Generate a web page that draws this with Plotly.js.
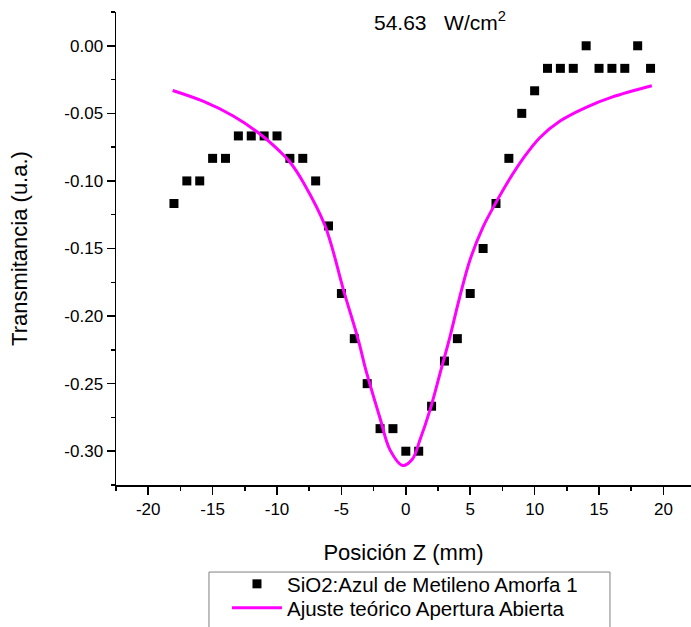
<!DOCTYPE html>
<html>
<head>
<meta charset="utf-8">
<script src="https://cdn.plot.ly/plotly-3.0.1.min.js"></script>
<style>html,body{margin:0;padding:0;background:#fff;overflow:hidden}</style>
</head>
<body>
<div id="chart" style="width:691px;height:627px"></div>
<script>
// Measured data (Posición Z in mm, Transmitancia in u.a.)
var posZ = [-18,-17,-16,-15,-14,-13,-12,-11,-10,-9,-8,-7,-6,-5,-4,-3,-2,-1,0,1,2,3,4,5,6,7,8,9,10,11,12,13,14,15,16,17,18,19];
var transmitancia = [-0.1167,-0.1,-0.1,-0.0833,-0.0833,-0.0667,-0.0667,-0.0667,-0.0667,-0.0833,-0.0833,-0.1,-0.1333,-0.1833,-0.2167,-0.25,-0.2833,-0.2833,-0.3,-0.3,-0.2667,-0.2333,-0.2167,-0.1833,-0.15,-0.1167,-0.0833,-0.05,-0.0333,-0.0167,-0.0167,-0.0167,0,-0.0167,-0.0167,-0.0167,0,-0.0167];

// Theoretical fit curve
var ajusteZ = [-18.1,-15.7,-13.4,-11.3,-9.8,-9.0,-7.9,-6.27,-4.77,-3.69,-3.1,-2.0,-1.23,-0.24,0.5,1.1,1.88,2.66,3.43,4.13,5.0,6.0,7.0,8.0,9.1,10.4,12.0,14.0,16.0,19.1];
var ajusteT = [-0.0331,-0.0412,-0.052,-0.0655,-0.078,-0.086,-0.102,-0.1332,-0.183,-0.2176,-0.240,-0.2756,-0.299,-0.3106,-0.306,-0.2916,-0.2694,-0.2423,-0.2152,-0.188,-0.158,-0.134,-0.116,-0.0995,-0.0835,-0.068,-0.0555,-0.0455,-0.038,-0.0296];

// Tick labels
var xTickVals = [-20,-15,-10,-5,0,5,10,15,20];
var xTickText = ["-20","-15","-10","-5","0","5","10","15","20"];
var yTickVals = [0,-0.05,-0.1,-0.15,-0.2,-0.25,-0.3];
var yTickText = ["0.00","-0.05","-0.10","-0.15","-0.20","-0.25","-0.30"];

var FONT = "Liberation Sans, Arial, sans-serif";

var traces = [
  {
    x: posZ, y: transmitancia, type: "scatter", mode: "markers",
    name: "SiO2:Azul de Metileno Amorfa 1",
    marker: {symbol: "square", size: 9, color: "#000000"},
    cliponaxis: false, legend: "legend"
  },
  {
    x: ajusteZ, y: ajusteT, type: "scatter", mode: "lines",
    name: "Ajuste teórico Apertura Abierta",
    line: {color: "#ff00ff", width: 3, shape: "spline", smoothing: 1},
    legend: "legend2"
  }
];

var legendBase = {
  x: 0.193, xanchor: "left", yanchor: "middle",
  bgcolor: "rgba(0,0,0,0)", borderwidth: 0,
  font: {family: FONT, size: 20.5, color: "#000"},
  tracegroupgap: 0, itemwidth: 50
};

var layout = {
  width: 691, height: 627,
  margin: {l: 116, r: 0, t: 12, b: 142, autoexpand: false},
  paper_bgcolor: "#fff", plot_bgcolor: "#fff",
  font: {family: FONT, color: "#000", size: 17},
  showlegend: true,
  legend: Object.assign({}, legendBase, {y: -0.2093}),
  legend2: Object.assign({}, legendBase, {y: -0.2600}),
  xaxis: {
    range: [-22.5, 22.14], showgrid: false, zeroline: false,
    showline: true, linecolor: "#000", linewidth: 1.5,
    ticks: "outside", ticklen: 8, tickwidth: 1.5, tickcolor: "#000",
    tickmode: "array", tickvals: xTickVals, ticktext: xTickText,
    tickfont: {size: 17},
    minor: {tickmode: "linear", tick0: -22.5, dtick: 5, ticks: "outside", ticklen: 4, tickwidth: 1.5, tickcolor: "#000", showgrid: false},
    title: {text: "Posición Z (mm)", font: {size: 22}, standoff: 26},
    fixedrange: true
  },
  yaxis: {
    range: [-0.325, 0.025], showgrid: false, zeroline: false,
    showline: true, linecolor: "#000", linewidth: 1.5,
    ticks: "outside", ticklen: 8, tickwidth: 1.5, tickcolor: "#000",
    tickmode: "array", tickvals: yTickVals, ticktext: yTickText,
    tickfont: {size: 17},
    minor: {tickmode: "linear", tick0: 0.025, dtick: 0.05, ticks: "outside", ticklen: 4, tickwidth: 1.5, tickcolor: "#000", showgrid: false},
    title: {text: "Transmitancia (u.a.)", font: {size: 22}, standoff: 30},
    fixedrange: true
  },
  shapes: [
    {type: "rect", xref: "paper", yref: "paper", x0: 0.1617, x1: 0.8591, y0: -0.184, y1: -0.40,
     line: {color: "#808080", width: 1}, fillcolor: "rgba(0,0,0,0)"}
  ],
  annotations: [
    {xref: "paper", yref: "paper", x: 0.563, y: 0.98, xanchor: "center", yanchor: "middle",
     text: "54.63   W/cm<sup>2</sup>", showarrow: false, font: {size: 21, family: FONT}}
  ]
};

Plotly.newPlot("chart", traces, layout, {displayModeBar: false, staticPlot: true});
</script>
</body>
</html>
